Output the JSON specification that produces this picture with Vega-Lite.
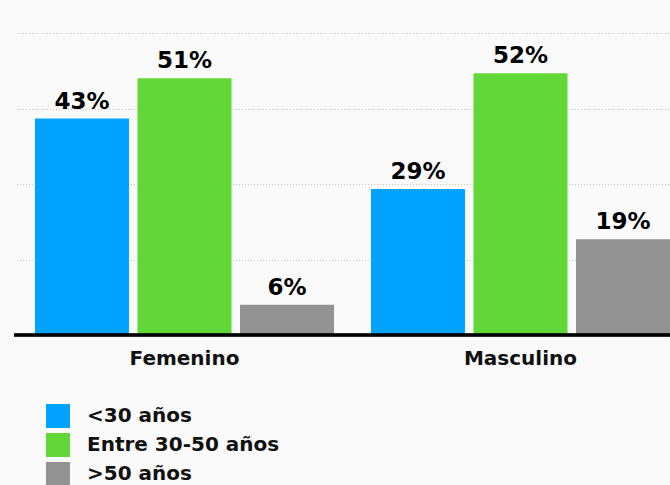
{
  "$schema": "https://vega.github.io/schema/vega-lite/v6.json",
  "width": 656,
  "height": 302,
  "autosize": "none",
  "padding": {"left": 14, "top": 33, "right": 0, "bottom": 150},
  "background": "#fafafa",
  "config": {"view": {"stroke": null}, "font": "DejaVu Sans"},
  "data": {
    "values": [
      {"genero": "Femenino", "edad": "<30 años", "pct": 43, "etiqueta": "43%"},
      {"genero": "Femenino", "edad": "Entre 30-50 años", "pct": 51, "etiqueta": "51%"},
      {"genero": "Femenino", "edad": ">50 años", "pct": 6, "etiqueta": "6%"},
      {"genero": "Masculino", "edad": "<30 años", "pct": 29, "etiqueta": "29%"},
      {"genero": "Masculino", "edad": "Entre 30-50 años", "pct": 52, "etiqueta": "52%"},
      {"genero": "Masculino", "edad": ">50 años", "pct": 19, "etiqueta": "19%"}
    ]
  },
  "layer": [
    {
      "mark": {"type": "bar"},
      "encoding": {
        "x": {
          "field": "genero",
          "type": "nominal",
          "scale": {"range": [2.5, 674.5], "paddingInner": 0.11, "paddingOuter": 0.055},
          "axis": {
            "title": null,
            "domain": false,
            "ticks": false,
            "labelAngle": 0,
            "labelFontSize": 20,
            "labelFontWeight": "bold",
            "labelColor": "#111111",
            "labelPadding": 13
          }
        },
        "xOffset": {
          "field": "edad",
          "type": "nominal",
          "sort": ["<30 años", "Entre 30-50 años", ">50 años"],
          "scale": {"paddingInner": 0.083, "paddingOuter": 0}
        },
        "y": {
          "field": "pct",
          "type": "quantitative",
          "scale": {"domain": [0, 60], "nice": false},
          "axis": {
            "title": null,
            "values": [15, 30, 45, 60],
            "labels": false,
            "ticks": false,
            "domain": false,
            "grid": true,
            "gridDash": [1, 2],
            "gridColor": "#c4c4c4",
            "gridWidth": 1
          }
        },
        "color": {
          "field": "edad",
          "type": "nominal",
          "sort": ["<30 años", "Entre 30-50 años", ">50 años"],
          "scale": {
            "domain": ["<30 años", "Entre 30-50 años", ">50 años"],
            "range": ["#00a3ff", "#62d838", "#939393"]
          },
          "legend": {
            "orient": "none",
            "legendX": 32,
            "legendY": 371,
            "title": null,
            "padding": 0,
            "symbolType": "square",
            "symbolSize": 576,
            "symbolStrokeWidth": 0,
            "symbolOpacity": 1,
            "labelFontSize": 20,
            "labelFontWeight": "bold",
            "labelColor": "#111111",
            "labelOffset": 17,
            "rowPadding": 5,
            "labelLimit": 400
          }
        }
      }
    },
    {
      "mark": {
        "type": "text",
        "dy": -10,
        "baseline": "alphabetic",
        "fontSize": 23,
        "fontWeight": "bold",
        "color": "#000000"
      },
      "encoding": {
        "x": {"field": "genero", "type": "nominal"},
        "xOffset": {"field": "edad", "type": "nominal", "sort": ["<30 años", "Entre 30-50 años", ">50 años"]},
        "y": {"field": "pct", "type": "quantitative"},
        "text": {"field": "etiqueta", "type": "nominal"}
      }
    },
    {
      "mark": {"type": "rule", "color": "#000000", "strokeWidth": 2.5},
      "encoding": {
        "y": {"datum": 0}
      }
    }
  ]
}
